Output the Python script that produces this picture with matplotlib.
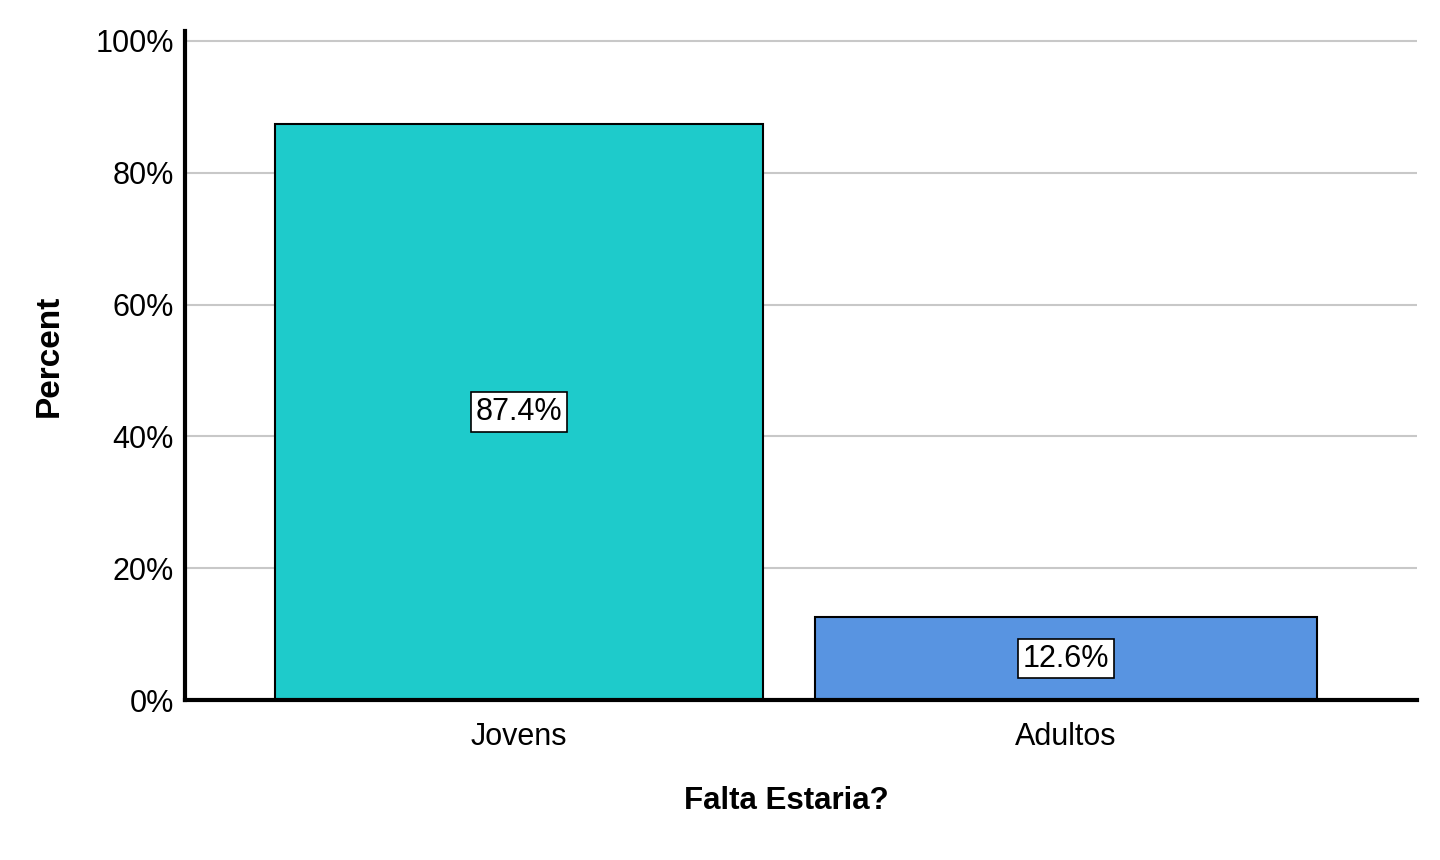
import matplotlib
matplotlib.use("Agg")
import matplotlib.pyplot as plt

# data
categories = ["Jovens", "Adultos"]
percents = [87.4, 12.6]
colors = ["#1ecbcb", "#5894e1"]
yticks = [0, 20, 40, 60, 80, 100]

plt.rcParams['font.family'] = ['Liberation Sans', 'DejaVu Sans']

fig = plt.figure(figsize=(14.4, 8.6), dpi=100)
ax = fig.add_axes([0.1285, 0.186, 0.8555, 0.778])

x = list(range(len(categories)))
bars = ax.bar(x, percents, width=[0.892, 0.918], color=colors, edgecolor="black",
              linewidth=1.5, zorder=3)

for b, p in zip(bars, percents):
    ax.text(b.get_x() + b.get_width() / 2, p / 2, f"{p:.1f}%",
            ha="center", va="center", fontsize=22, zorder=4,
            bbox=dict(boxstyle="square,pad=0.16", fc="white", ec="black", lw=1.2))

ax.set_xlim(-0.611, 1.642)
ax.set_ylim(0, 101.5)
ax.set_yticks(yticks)
ax.set_yticklabels([f"{t}%" for t in yticks], fontsize=22)
ax.set_xticks(x)
ax.set_xticklabels(categories, fontsize=22)
ax.tick_params(axis="both", length=0)
ax.tick_params(axis="x", pad=16)
ax.tick_params(axis="y", pad=8)

ax.yaxis.grid(True, color="#c8c8c8", linewidth=1.5, zorder=0)
ax.set_axisbelow(True)

for s in ["top", "right"]:
    ax.spines[s].set_visible(False)
for s in ["left", "bottom"]:
    ax.spines[s].set_linewidth(3)
    ax.spines[s].set_zorder(5)

ax.set_xlabel("Falta Estaria?", fontsize=22.5, fontweight="bold")
ax.set_ylabel("Percent", fontsize=24, fontweight="bold")
ax.xaxis.set_label_coords(0.488, -0.129)
ax.yaxis.set_label_coords(-0.098, 0.514)

fig.savefig("out.png", dpi=100)
